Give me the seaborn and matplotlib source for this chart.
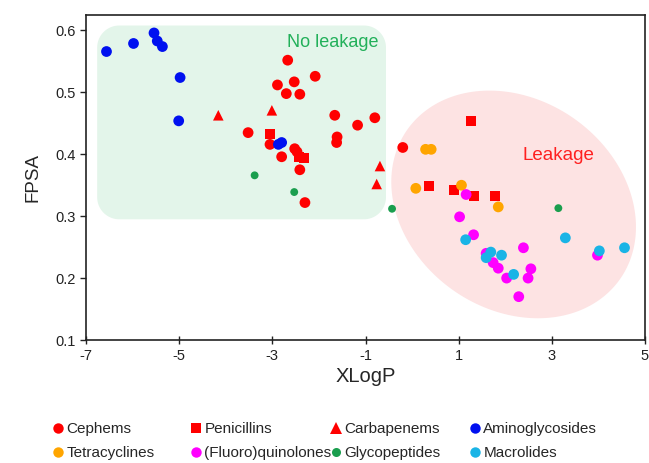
import numpy as np
import pandas as pd
import matplotlib
matplotlib.use("Agg")
import matplotlib.pyplot as plt
import seaborn as sns
from matplotlib.patches import Polygon
from matplotlib.lines import Line2D

# ---- data ----
cephems_x = [-2.67, -2.08, -2.89, -2.53, -2.70, -2.41, -1.66, -0.80, -1.17, -1.61, -1.62,
             -3.52, -3.05, -2.80, -2.52, -2.47, -2.41, -2.30, -0.20]
cephems_y = [0.552, 0.526, 0.512, 0.517, 0.498, 0.497, 0.463, 0.459, 0.447, 0.428, 0.419,
             0.435, 0.416, 0.396, 0.409, 0.404, 0.375, 0.322, 0.411]
penicillins_x = [-3.06, -2.42, -2.32, 1.26, 0.36, 0.90, 1.33, 1.79]
penicillins_y = [0.433, 0.396, 0.394, 0.454, 0.349, 0.342, 0.332, 0.332]
carbapenems_x = [-4.16, -3.01, -0.69, -0.76]
carbapenems_y = [0.463, 0.471, 0.381, 0.352]
aminoglycosides_x = [-6.56, -5.98, -5.54, -5.47, -5.36, -4.98, -5.01, -2.87, -2.80]
aminoglycosides_y = [0.566, 0.579, 0.596, 0.583, 0.574, 0.524, 0.454, 0.416, 0.419]
tetracyclines_x = [0.29, 0.41, 0.08, 1.06, 1.85]
tetracyclines_y = [0.408, 0.408, 0.345, 0.350, 0.315]
quinolones_x = [1.16, 1.02, 1.32, 1.59, 1.74, 1.85, 2.03, 2.39, 2.55, 2.49, 2.29, 3.98]
quinolones_y = [0.335, 0.299, 0.270, 0.240, 0.225, 0.216, 0.200, 0.249, 0.215, 0.200, 0.170, 0.237]
glycopeptides_x = [-3.38, -2.53, -0.43, 3.14]
glycopeptides_y = [0.366, 0.339, 0.312, 0.313]
macrolides_x = [1.15, 1.69, 1.59, 1.92, 2.18, 3.29, 4.02, 4.56]
macrolides_y = [0.262, 0.242, 0.233, 0.237, 0.206, 0.265, 0.244, 0.249]

x_ticks = [-7, -5, -3, -1, 1, 3, 5]
y_ticks = [0.1, 0.2, 0.3, 0.4, 0.5, 0.6]

# name, x, y, colour, marker, scatter size, legend marker size
groups = [
    ("Cephems", cephems_x, cephems_y, "#ff0000", "o", 60, 7.5),
    ("Penicillins", penicillins_x, penicillins_y, "#ff0000", "s", 52, 7),
    ("Carbapenems", carbapenems_x, carbapenems_y, "#ff0000", "^", 58, 8),
    ("Aminoglycosides", aminoglycosides_x, aminoglycosides_y, "#0010f0", "o", 60, 7.5),
    ("Tetracyclines", tetracyclines_x, tetracyclines_y, "#ffa500", "o", 60, 7.5),
    ("(Fluoro)quinolones", quinolones_x, quinolones_y, "#ff00ff", "o", 60, 7.5),
    ("Glycopeptides", glycopeptides_x, glycopeptides_y, "#1a9e4e", "o", 32, 6.5),
    ("Macrolides", macrolides_x, macrolides_y, "#1ab4e6", "o", 60, 7.5),
]

sns.set_style("white")
plt.rcParams['font.family'] = ['Liberation Sans', 'DejaVu Sans']

fig = plt.figure(figsize=(6.49, 4.63), dpi=100)
ax = fig.add_axes([86 / 649, 1 - 340 / 463, (645 - 86) / 649, (340 - 15) / 463])
ax.set_xlim(-7, 5)
ax.set_ylim(0.1, 0.625)

fig.canvas.draw()
to_disp = ax.transData.transform
to_data = ax.transData.inverted().transform

# green rounded rectangle (No leakage)
def rounded_rect(x0, y0, x1, y1, r):
    (px0, py0), (px1, py1) = to_disp([(x0, y0), (x1, y1)])
    pts = []
    corners = [(px1 - r, py1 - r, 0), (px0 + r, py1 - r, 90), (px0 + r, py0 + r, 180), (px1 - r, py0 + r, 270)]
    for cx, cy, a0 in corners:
        t = np.radians(np.linspace(a0, a0 + 90, 20))
        pts.extend(zip(cx + r * np.cos(t), cy + r * np.sin(t)))
    return to_data(np.array(pts))

rect = Polygon(rounded_rect(-6.76, 0.295, -0.56, 0.608, 22), closed=True,
               facecolor="#e3f5ea", edgecolor="none", zorder=0)
ax.add_patch(rect)

# pink ellipse (Leakage)
def ellipse(cx, cy, a, b, ang):
    pcx, pcy = to_disp([(cx, cy)])[0]
    t = np.linspace(0, 2 * np.pi, 200)
    th = np.radians(ang)
    dx = a * np.cos(t) * np.cos(th) - b * np.sin(t) * np.sin(th)
    dy = a * np.cos(t) * np.sin(th) + b * np.sin(t) * np.cos(th)
    return to_data(np.column_stack([pcx + dx, pcy + dy]))

ell = Polygon(ellipse(2.18, 0.319, 130, 105, -35), closed=True,
              facecolor="#fde3e3", edgecolor="none", zorder=0)
ax.add_patch(ell)

handles = {}
for name, xs, ys, col, mk, s, ms in groups:
    df = pd.DataFrame({"XLogP": xs, "FPSA": ys})
    sns.scatterplot(data=df, x="XLogP", y="FPSA", color=col, marker=mk, s=s,
                    edgecolor="none", linewidth=0, ax=ax, zorder=3)
    handles[name] = Line2D([], [], linestyle="none", marker=mk, color=col,
                           markersize=ms, markeredgewidth=0)

ax.text(-1.7, 0.581, "No leakage", color="#22b05a", fontsize=13, ha="center", va="center")
ax.text(3.15, 0.398, "Leakage", color="#ff2020", fontsize=13.5, ha="center", va="center")

ax.set_xticks(x_ticks)
ax.set_xticklabels([str(v) for v in x_ticks])
ax.set_yticks(y_ticks)
ax.set_yticklabels([f"{v:.1f}" for v in y_ticks])
ax.tick_params(axis="x", direction="inout", length=6, width=1, labelsize=10.5, colors="#222222")
ax.tick_params(axis="y", direction="out", length=4, width=1, labelsize=10.5, colors="#222222")
ax.tick_params(bottom=True, left=True)
for sp in ax.spines.values():
    sp.set_visible(True)
    sp.set_color("#222222")
    sp.set_linewidth(1.2)
ax.set_xlabel("XLogP", fontsize=14.5, labelpad=3)
ax.set_ylabel("FPSA", fontsize=13.5, labelpad=10)

# legend: four columns, two rows
columns = [["Cephems", "Tetracyclines"], ["Penicillins", "(Fluoro)quinolones"],
           ["Carbapenems", "Glycopeptides"], ["Aminoglycosides", "Macrolides"]]
col_marker_px = [58, 196, 336, 475]
fs = 11
handle_px = 0.8 * fs * 100 / 72
for names, mx in zip(columns, col_marker_px):
    leg = fig.legend([handles[n] for n in names], names, loc="center left",
                     bbox_to_anchor=((mx - handle_px / 2) / 649, 1 - 441 / 463),
                     frameon=False, fontsize=fs, handlelength=0.8, handletextpad=0.15,
                     labelspacing=0.65, borderpad=0, borderaxespad=0)

fig.savefig("out.png", dpi=100)
